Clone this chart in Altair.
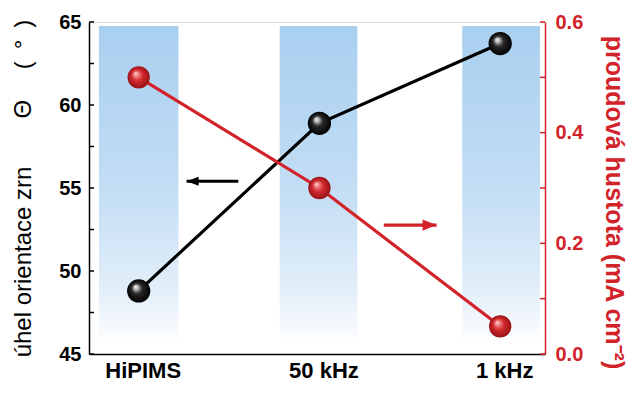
import altair as alt
import pandas as pd

# ---- data ----
categories = ["HiPIMS", "50 kHz", "1 kHz"]
angle_deg = [48.8, 58.9, 63.7]           # left axis (black)
current_density = [0.50, 0.30, 0.05]     # right axis (red)

left_tick_values = [45, 47.5, 50, 52.5, 55, 57.5, 60, 62.5, 65]
left_label_values = [45, 50, 55, 60, 65]
right_tick_values = [0.0, 0.1, 0.2, 0.3, 0.4, 0.5, 0.6]
right_label_values = [0.0, 0.2, 0.4, 0.6]

band_start = [-0.22, 0.78, 1.79]
band_end = [0.22, 1.21, 2.22]

arrow_left_x = [0.265, 0.551]   # tip, tail (left axis units)
arrow_left_y = [55.4, 55.4]
arrow_right_x = [1.648, 1.356]  # tip, tail (right axis units)
arrow_right_y = [0.233, 0.233]

# ---- styling ----
RED = "#d2232a"
FONT = "Liberation Sans"
W, H = 456, 332

df = pd.DataFrame({"idx": list(range(len(categories))), "cat": categories,
                   "ang": angle_deg, "cur": current_density})
bands_df = pd.DataFrame({"x0": band_start, "x1": band_end})
lt_df = pd.DataFrame({"t": left_tick_values})
rt_df = pd.DataFrame({"t": right_tick_values})
al_df = pd.DataFrame({"x": arrow_left_x, "y": arrow_left_y})
ar_df = pd.DataFrame({"x": arrow_right_x, "y": arrow_right_y})

x_scale = alt.Scale(domain=[-0.275, 2.248], nice=False, zero=False)
label_expr = "[" + ",".join("'%s'" % c for c in categories) + "][datum.value]"
x_axis = alt.Axis(title=None, values=list(range(len(categories))), labelExpr=label_expr,
                  labelFontSize=22, labelFontWeight="bold", labelColor="black", labelFont=FONT,
                  labelPadding=6, labelOffset=4, ticks=False, grid=False,
                  domainColor="black", domainWidth=1.5, labelOverlap=False, labelFlush=False)


def X(field):
    return alt.X(field, scale=x_scale, axis=x_axis)


ls = alt.Scale(domain=[45, 65], nice=False, zero=False)
left_axis = alt.Axis(
    title="úhel orientace zrn\u2003\u2003Θ\u2003 (\u2002°\u2002)",
    titleFont=FONT, titleFontSize=24, titleFontWeight="normal", titleColor="black",
    titleX=-66, titleY=166, titleBaseline="middle", titleAlign="center", titleAngle=270,
    values=left_label_values, labelFontSize=20, labelFontWeight="bold", labelColor="black",
    labelFont=FONT, labelPadding=8, ticks=False, grid=False,
    domainColor="black", domainWidth=1.5)

rs = alt.Scale(domain=[0, 0.6], nice=False, zero=False)
right_axis = alt.Axis(
    orient="right",
    title="proudová hustota (mA cm\u207b\u00b2)",
    titleFont=FONT, titleFontSize=25, titleFontWeight="bold", titleColor=RED,
    titleX=68, titleY=180, titleBaseline="middle", titleAlign="center", titleAngle=90,
    values=right_label_values, format=".1f", labelFontSize=20, labelFontWeight="bold",
    labelColor=RED, labelFont=FONT, labelPadding=10, ticks=False, grid=False,
    domainColor=RED, domainWidth=1.5)


def YL(field):
    return alt.Y(field, scale=ls, axis=left_axis)


def YR(field):
    return alt.Y(field, scale=rs, axis=right_axis)


band_grad = alt.LinearGradient(
    gradient="linear", x1=0, x2=0, y1=0, y2=1,
    stops=[alt.GradientStop(offset=0, color="#a9cfef"),
           alt.GradientStop(offset=0.5, color="#c2ddf4"),
           alt.GradientStop(offset=0.82, color="#e2eef9"),
           alt.GradientStop(offset=1, color="#ffffff")])

bands = alt.Chart(bands_df).mark_rect(fill=band_grad, opacity=1).encode(
    x=X("x0:Q"), x2="x1:Q", y=alt.value(4), y2=alt.value(H - 8))

black_grad = alt.RadialGradient(
    gradient="radial", x1=0.36, y1=0.32, r1=0, x2=0.5, y2=0.5, r2=0.5,
    stops=[alt.GradientStop(offset=0, color="#ffffff"),
           alt.GradientStop(offset=0.18, color="#bdbdbd"),
           alt.GradientStop(offset=0.45, color="#2a2a2a"),
           alt.GradientStop(offset=1, color="#000000")])
red_grad = alt.RadialGradient(
    gradient="radial", x1=0.36, y1=0.32, r1=0, x2=0.5, y2=0.5, r2=0.5,
    stops=[alt.GradientStop(offset=0, color="#ffe4e4"),
           alt.GradientStop(offset=0.18, color="#f08a8c"),
           alt.GradientStop(offset=0.5, color="#d42a2f"),
           alt.GradientStop(offset=1, color="#961216")])

base = alt.Chart(df)

# left group (black)
line_b = base.mark_line(color="black", strokeWidth=3.2).encode(x=X("idx:Q"), y=YL("ang:Q"))
pts_b = base.mark_circle(fill=black_grad, size=540, opacity=1).encode(x=X("idx:Q"), y=YL("ang:Q"))
ticks_l = alt.Chart(lt_df).mark_rule(color="black", strokeWidth=1.5).encode(
    y=YL("t:Q"), x=alt.value(0), x2=alt.value(5))
shaft_l = alt.Chart(al_df).mark_line(color="black", strokeWidth=3).encode(x=X("x:Q"), y=YL("y:Q"))
head_l = alt.Chart(al_df.iloc[[0]]).mark_point(
    shape="M0,0L2,-0.75L2,0.75Z", filled=True, size=144, color="black", opacity=1,
    strokeWidth=0).encode(x=X("x:Q"), y=YL("y:Q"))
left_group = alt.layer(line_b, ticks_l, shaft_l, head_l, pts_b)

# right group (red)
line_r = base.mark_line(color=RED, strokeWidth=3.2).encode(x=X("idx:Q"), y=YR("cur:Q"))
pts_r = base.mark_circle(fill=red_grad, size=500, opacity=1).encode(x=X("idx:Q"), y=YR("cur:Q"))
ticks_r = alt.Chart(rt_df).mark_rule(color=RED, strokeWidth=1.5).encode(
    y=YR("t:Q"), x=alt.value(W - 5), x2=alt.value(W))
shaft_r = alt.Chart(ar_df).mark_line(color=RED, strokeWidth=3.2).encode(x=X("x:Q"), y=YR("y:Q"))
head_r = alt.Chart(ar_df.iloc[[0]]).mark_point(
    shape="M0,0L-2,-0.8L-2,0.8Z", filled=True, size=196, color=RED, opacity=1,
    strokeWidth=0).encode(x=X("x:Q"), y=YR("y:Q"))
right_group = alt.layer(line_r, ticks_r, shaft_r, head_r, pts_r)

chart = alt.layer(bands, left_group, right_group).resolve_scale(y="independent").properties(
    width=W, height=H,
    autosize=alt.AutoSizeParams(type="none"),
    padding={"left": 81, "top": 14, "right": 83, "bottom": 32},
).configure_view(stroke="black", strokeWidth=1.5).configure(font=FONT, background="white")

chart.save("out.html", embed_options={"renderer": "svg", "actions": False})
